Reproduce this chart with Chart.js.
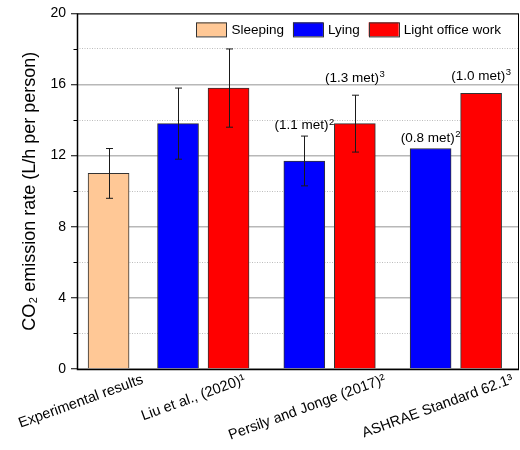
<!DOCTYPE html>
<html>
<head>
<meta charset="utf-8">
<script src="https://cdn.jsdelivr.net/npm/chart.js@4/dist/chart.umd.min.js"></script>
<style>
  html, body { margin: 0; padding: 0; background: #fff; }
  #wrap { width: 520px; height: 450px; }
</style>
</head>
<body>
<div id="wrap"><canvas id="chart" width="520" height="450"></canvas></div>
<script>
// ---- data -------------------------------------------------------------
const categories = [
  'Experimental results',
  'Liu et al., (2020)\u00B9',
  'Persily and Jonge (2017)\u00B2',
  'ASHRAE Standard 62.1\u00B3'
];
const seriesNames = ['Sleeping', 'Lying', 'Light office work'];

// CO2 emission rate, L/h per person
const sleeping    = [11.0, null, null, null];
const sleepingErr = [1.4,  null, null, null];
const lying       = [null, 13.8, 11.7, 12.4];
const lyingErr    = [null, 2.0,  1.4,  null];
const office      = [null, 15.8, 13.8, 15.5];
const officeErr   = [null, 2.2,  1.6,  null];

// metabolic-rate notes written above some bars, with their reference number
const lyingNote     = [null, null, '(1.1 met)', '(0.8 met)'];
const lyingNoteRef  = [null, null, '2', '2'];
const officeNote    = [null, null, '(1.3 met)', '(1.0 met)'];
const officeNoteRef = [null, null, '3', '3'];

const yTicks = [0, 4, 8, 12, 16, 20];

// ---- layout -----------------------------------------------------------
const FONT = "'Liberation Sans', Arial, Helvetica, sans-serif";
Chart.defaults.font.family = FONT;
Chart.defaults.color = '#000';

// position of each category group along the x axis and of its slanted label
const groupCenter = [2.5, 10, 20, 30];
const labelAnchor = [5.2, 13.3, 24.4, 34.5];

function placed(values, shift) {
  return values.map((v, i) => ({ x: groupCenter[i] + shift, y: v }));
}

const isMajor = v => yTicks.includes(v);

// error bars, metabolic notes, frame, minor ticks and the in-plot legend
const decorations = {
  id: 'decorations',
  afterDatasetsDraw(chart) {
    const { ctx, chartArea: a, scales: { y } } = chart;
    ctx.save();

    // error bars
    chart.data.datasets.forEach((ds, di) => {
      const meta = chart.getDatasetMeta(di);
      (ds.errors || []).forEach((e, i) => {
        const v = ds.data[i].y;
        if (e == null || v == null) return;
        const x = Math.round(meta.data[i].x) + 0.5;
        const yt = y.getPixelForValue(v + e);
        const yb = y.getPixelForValue(v - e);
        ctx.strokeStyle = '#1a1a1a';
        ctx.lineWidth = 1;
        ctx.beginPath();
        ctx.moveTo(x, yt); ctx.lineTo(x, yb);
        ctx.moveTo(x - 3.5, yt); ctx.lineTo(x + 3.5, yt);
        ctx.moveTo(x - 3.5, yb); ctx.lineTo(x + 3.5, yb);
        ctx.stroke();
      });
    });

    // notes above bars
    chart.data.datasets.forEach((ds, di) => {
      const meta = chart.getDatasetMeta(di);
      (ds.notes || []).forEach((t, i) => {
        if (!t) return;
        const v = ds.data[i].y;
        const e = (ds.errors && ds.errors[i]) || 0;
        const top = y.getPixelForValue(v + e);
        const base = top - ds.noteGap;
        const sup = ds.noteRefs[i] || '';
        ctx.font = '13.5px ' + FONT;
        const w1 = ctx.measureText(t).width;
        ctx.font = '9.5px ' + FONT;
        const w2 = ctx.measureText(sup).width;
        const x0 = meta.data[i].x - (w1 + w2 + 0.5) / 2;
        ctx.fillStyle = '#000';
        ctx.textBaseline = 'alphabetic';
        ctx.textAlign = 'left';
        ctx.font = '13.5px ' + FONT;
        ctx.fillText(t, x0, base);
        ctx.font = '9.5px ' + FONT;
        ctx.fillText(sup, x0 + w1 + 0.5, base - 4.5);
      });
    });

    // minor ticks on the y axis
    ctx.strokeStyle = '#000';
    ctx.lineWidth = 1;
    for (let v = y.min; v <= y.max; v += 2) {
      if (isMajor(v)) continue;
      const py = Math.round(y.getPixelForValue(v)) + 0.5;
      ctx.beginPath();
      ctx.moveTo(a.left - 3.5, py); ctx.lineTo(a.left, py);
      ctx.stroke();
    }

    // plot frame
    ctx.strokeStyle = '#000';
    ctx.lineWidth = 1;
    ctx.strokeRect(a.left + 0.5, a.top + 0.5, a.right - a.left - 1, a.bottom - a.top);
    ctx.lineWidth = 1.5;
    ctx.beginPath();
    ctx.moveTo(a.left + 0.5, a.top);
    ctx.lineTo(a.left + 0.5, a.bottom + 0.5);
    ctx.lineTo(a.right, a.bottom + 0.5);
    ctx.stroke();

    // legend row inside the plot
    const boxW = 30, boxH = 14, gapBox = 5, gapItem = 9;
    ctx.font = '13.5px ' + FONT;
    const items = chart.data.datasets.map(ds => ({
      label: ds.label, fill: ds.backgroundColor, w: ctx.measureText(ds.label).width
    }));
    const total = items.reduce((s, it) => s + boxW + gapBox + it.w, 0) + gapItem * (items.length - 1);
    let lx = a.right - 18 - total;
    const ly = a.top + 9;
    items.forEach(it => {
      ctx.fillStyle = it.fill;
      ctx.fillRect(lx, ly, boxW, boxH);
      ctx.strokeStyle = '#333';
      ctx.lineWidth = 1;
      ctx.strokeRect(Math.round(lx) + 0.5, ly + 0.5, boxW, boxH);
      ctx.fillStyle = '#000';
      ctx.textBaseline = 'middle';
      ctx.textAlign = 'left';
      ctx.fillText(it.label, lx + boxW + gapBox, ly + boxH / 2 + 1);
      lx += boxW + gapBox + it.w + gapItem;
    });

    ctx.restore();
  }
};

new Chart(document.getElementById('chart'), {
  type: 'bar',
  data: {
    datasets: [
      { label: seriesNames[0], data: placed(sleeping, 0), errors: sleepingErr,
        backgroundColor: '#FFC896', borderColor: '#333333', borderWidth: 1 },
      { label: seriesNames[1], data: placed(lying, -2), errors: lyingErr,
        notes: lyingNote, noteRefs: lyingNoteRef, noteGap: 7,
        backgroundColor: '#0000FF', borderColor: '#333333', borderWidth: 1 },
      { label: seriesNames[2], data: placed(office, 2), errors: officeErr,
        notes: officeNote, noteRefs: officeNoteRef, noteGap: 13.5,
        backgroundColor: '#FF0000', borderColor: '#333333', borderWidth: 1 }
    ]
  },
  options: {
    responsive: false,
    animation: false,
    devicePixelRatio: 1,
    layout: { padding: { left: 19, right: 1, top: 13, bottom: 0 } },
    datasets: { bar: { grouped: false, barThickness: 41 } },
    plugins: { legend: { display: false }, tooltip: { enabled: false } },
    scales: {
      x: {
        type: 'linear', min: 0, max: 35, offset: false,
        grid: { display: false, drawTicks: false, offset: false },
        border: { display: false },
        afterBuildTicks(scale) { scale.ticks = labelAnchor.map(v => ({ value: v })); },
        afterFit(scale) {
          scale.height = 81;
          scale.paddingLeft = 0;
          scale.paddingRight = 0;
        },
        ticks: {
          autoSkip: false, minRotation: 20, maxRotation: 20, padding: 2,
          font: { size: 14.5 }, color: '#000',
          callback: (v, i) => categories[i]
        }
      },
      y: {
        type: 'linear', min: 0, max: 20,
        afterFit(scale) { scale.width = 58; },
        ticks: {
          stepSize: 2, padding: 5, font: { size: 14 }, color: '#000',
          callback: v => isMajor(v) ? v : ''
        },
        grid: {
          color: c => isMajor(c.tick.value) ? '#b8b8b8' : '#bdbdbd',
          lineWidth: c => isMajor(c.tick.value) ? 1.5 : 1,
          tickLength: 6,
          tickColor: c => isMajor(c.tick.value) ? '#000' : 'rgba(0,0,0,0)',
          tickWidth: 1
        },
        border: {
          display: false,
          dash: c => (c.tick && !isMajor(c.tick.value)) ? [1, 1.5] : []
        },
        title: {
          display: true, text: 'CO\u2082 emission rate (L/h per person)',
          font: { size: 18 }, padding: 0, color: '#000'
        }
      }
    }
  },
  plugins: [decorations]
});
</script>
</body>
</html>
